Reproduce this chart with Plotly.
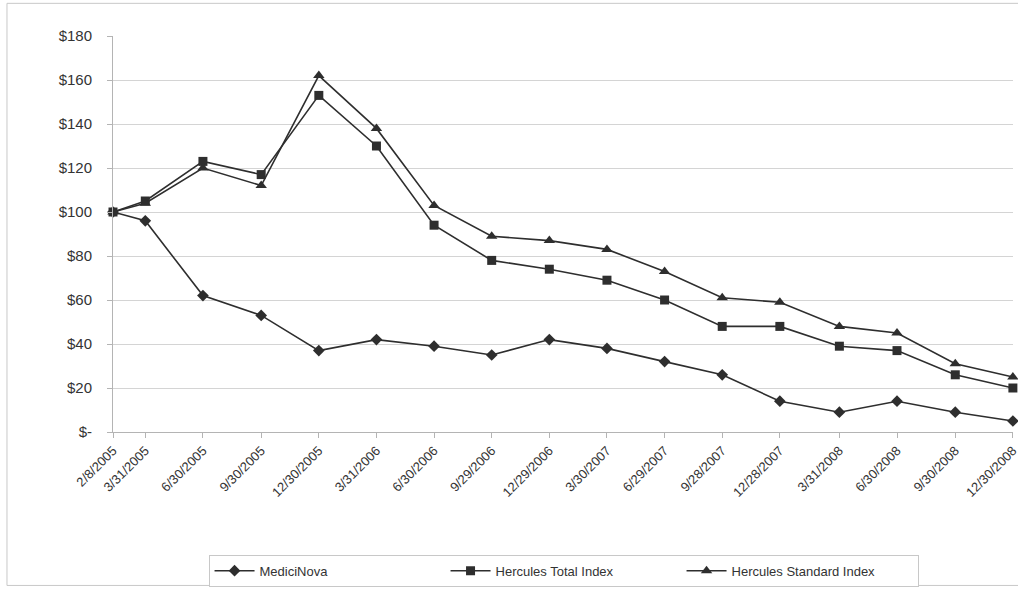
import plotly.graph_objects as go

dates = ["2005-02-08", "2005-03-31", "2005-06-30", "2005-09-30", "2005-12-30",
         "2006-03-31", "2006-06-30", "2006-09-29", "2006-12-29", "2007-03-30",
         "2007-06-29", "2007-09-28", "2007-12-28", "2008-03-31", "2008-06-30",
         "2008-09-30", "2008-12-30"]
date_labels = ["2/8/2005", "3/31/2005", "6/30/2005", "9/30/2005", "12/30/2005",
               "3/31/2006", "6/30/2006", "9/29/2006", "12/29/2006", "3/30/2007",
               "6/29/2007", "9/28/2007", "12/28/2007", "3/31/2008", "6/30/2008",
               "9/30/2008", "12/30/2008"]

medicinova = [100, 96, 62, 53, 37, 42, 39, 35, 42, 38, 32, 26, 14, 9, 14, 9, 5]
hercules_total = [100, 105, 123, 117, 153, 130, 94, 78, 74, 69, 60, 48, 48, 39, 37, 26, 20]
hercules_standard = [100, 104, 120, 112, 162, 138, 103, 89, 87, 83, 73, 61, 59, 48, 45, 31, 25]

y_ticks = [0, 20, 40, 60, 80, 100, 120, 140, 160, 180]
y_labels = ["$-", "$20", "$40", "$60", "$80", "$100", "$120", "$140", "$160", "$180"]

series = [
    ("MediciNova", medicinova, "diamond", 9),
    ("Hercules Total Index", hercules_total, "square", 9),
    ("Hercules Standard Index", hercules_standard, "triangle-up", 10),
]

line_color = "#2e2e2e"
fig = go.Figure()
for name, vals, sym, sz in series:
    fig.add_trace(go.Scatter(
        x=dates, y=vals, name=name, mode="lines+markers",
        line=dict(color=line_color, width=1.6),
        marker=dict(symbol=sym, size=sz, color=line_color),
        cliponaxis=False,
    ))

fig.update_layout(
    width=1018, height=592,
    margin=dict(l=113, r=5, t=36, b=156),
    paper_bgcolor="white", plot_bgcolor="white",
    font=dict(family="Liberation Sans, Arial, sans-serif", size=13, color="#333333"),
    showlegend=True,
    legend=dict(
        orientation="h", x=0.5006, xanchor="center", y=-0.31, yanchor="top",
        bordercolor="#c8c8c8", borderwidth=1, font=dict(size=13, color="#333333"),
        entrywidth=181, entrywidthmode="pixels", itemwidth=40,
    ),
    xaxis=dict(
        type="date", range=[dates[0], "2008-12-30 04:00"],
        tickvals=dates, ticktext=date_labels, tickangle=-45,
        ticklabeloverflow="allow",
        showgrid=False, showline=True, linecolor="#b4b4b4", linewidth=1,
        ticks="outside", ticklen=5, tickcolor="#b4b4b4",
        tickfont=dict(size=13, color="#333333"), automargin=False,
        zeroline=False,
    ),
    yaxis=dict(
        range=[0, 180], tickvals=y_ticks, ticktext=y_labels,
        showgrid=True, gridcolor="#d4d4d4", gridwidth=1,
        showline=True, linecolor="#b4b4b4", linewidth=1,
        ticks="outside", ticklen=5, tickcolor="#b4b4b4",
        tickfont=dict(size=15, color="#333333"), automargin=False,
        zeroline=False, ticklabelstandoff=12,
    ),
    shapes=[dict(type="rect", xref="paper", yref="paper",
                 x0=-0.1178, x1=1.03, y0=-0.3875, y1=1.0825,
                 line=dict(color="#c8c8c8", width=1), layer="below")],
)

fig.write_html("out.html", config={"displayModeBar": False},
               post_script="document.body.style.margin='0';document.body.style.overflow='hidden';")
